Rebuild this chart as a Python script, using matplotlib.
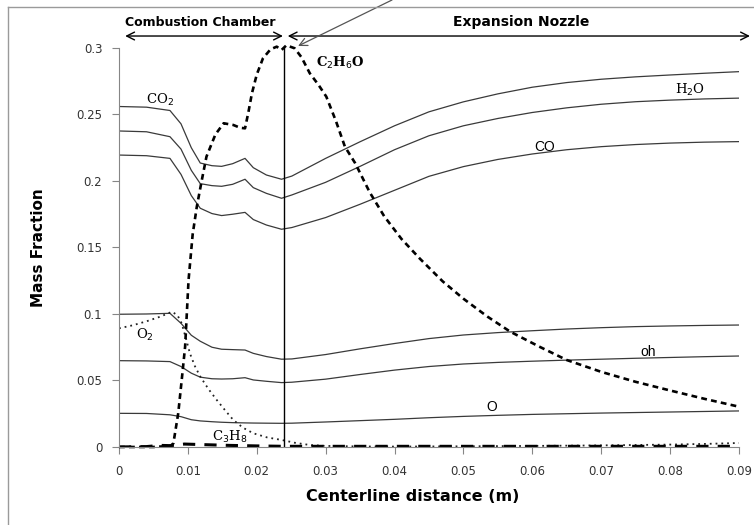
import matplotlib
matplotlib.use('Agg')
import matplotlib.pyplot as plt
from matplotlib.lines import Line2D

# solid species curves share one set of read-off x positions
x_solid = [0, 0.004, 0.0074, 0.009, 0.0105, 0.0118, 0.0135, 0.0149, 0.0165, 0.0183,
           0.0195, 0.0214, 0.0236, 0.0251, 0.03, 0.035, 0.04, 0.045, 0.05, 0.055,
           0.06, 0.065, 0.07, 0.075, 0.08, 0.085, 0.09]
co2 = [0.256, 0.2555, 0.253, 0.243, 0.225, 0.2135, 0.2115, 0.211, 0.213, 0.217,
       0.21, 0.2045, 0.2013, 0.2037, 0.217, 0.2295, 0.2415, 0.252, 0.2595, 0.2655,
       0.2705, 0.274, 0.2765, 0.2783, 0.2797, 0.281, 0.2822]
h2o = [0.2376, 0.237, 0.2333, 0.224, 0.208, 0.198, 0.1965, 0.196, 0.1975, 0.2013,
       0.195, 0.1907, 0.187, 0.1895, 0.199, 0.211, 0.2235, 0.234, 0.2415, 0.247,
       0.2515, 0.255, 0.2577, 0.2596, 0.2608, 0.2617, 0.2623]
co = [0.2195, 0.219, 0.217, 0.205, 0.189, 0.1795, 0.1755, 0.174, 0.175, 0.1764,
      0.171, 0.1669, 0.1637, 0.165, 0.1725, 0.1825, 0.193, 0.2035, 0.2108, 0.2162,
      0.2203, 0.2235, 0.2258, 0.2274, 0.2285, 0.2292, 0.2296]
h2 = [0.0998, 0.1, 0.1005, 0.093, 0.084, 0.0795, 0.075, 0.0735, 0.0732, 0.0729,
      0.0704, 0.068, 0.066, 0.0662, 0.0695, 0.0738, 0.0778, 0.0815, 0.0842, 0.086,
      0.0874, 0.0887, 0.0897, 0.0905, 0.091, 0.0914, 0.0917]
oh = [0.0649, 0.0647, 0.0642, 0.0605, 0.0555, 0.0525, 0.0513, 0.0511, 0.0513, 0.0521,
      0.0504, 0.0494, 0.0484, 0.0487, 0.051, 0.0545, 0.0578, 0.0605, 0.0624, 0.0636,
      0.0645, 0.0653, 0.066, 0.0667, 0.0673, 0.0679, 0.0684]
o = [0.0253, 0.0252, 0.0242, 0.0228, 0.0205, 0.0196, 0.019, 0.0186, 0.0183, 0.0181,
     0.018, 0.0179, 0.0178, 0.0179, 0.0188, 0.0198, 0.0208, 0.022, 0.023, 0.0238,
     0.0245, 0.025, 0.0255, 0.0259, 0.0263, 0.0267, 0.0271]

x_o2 = [0, 0.002, 0.004, 0.006, 0.0077, 0.0085, 0.0091, 0.0097, 0.0103, 0.011,
        0.0118, 0.013, 0.0142, 0.0155, 0.0166, 0.018, 0.0195, 0.0215, 0.0236, 0.0255,
        0.0277, 0.03, 0.035, 0.04, 0.05, 0.06, 0.07, 0.08, 0.085, 0.09]
o2 = [0.0892, 0.0915, 0.0945, 0.098, 0.1017, 0.099, 0.093, 0.082, 0.0704, 0.061,
      0.0529, 0.0435, 0.0353, 0.027, 0.0203, 0.0145, 0.0103, 0.0072, 0.0053, 0.0032,
      0.0015, 0.0008, 0.0004, 0.0003, 0.0005, 0.0008, 0.0012, 0.0018, 0.0023, 0.003]

x_c2h6o = [0, 0.005, 0.0075, 0.0079, 0.0086, 0.0091, 0.0096, 0.0101, 0.0107, 0.0113,
           0.012, 0.0127, 0.014, 0.0152, 0.0166, 0.0176, 0.0183, 0.0188, 0.0193, 0.02,
           0.0209, 0.022, 0.0229, 0.0236, 0.0243, 0.0255, 0.0265, 0.0277, 0.029, 0.0301,
           0.0315, 0.0328, 0.0343, 0.0364, 0.0385, 0.041, 0.0437, 0.047, 0.05, 0.0535,
           0.0568, 0.061, 0.065, 0.07, 0.075, 0.08, 0.085, 0.09]
c2h6o = [0, 0, 0.0008, 0.0028, 0.0253, 0.05, 0.0754, 0.1256, 0.16, 0.1807,
         0.2, 0.2183, 0.235, 0.2434, 0.2421, 0.24, 0.2396, 0.252, 0.2659, 0.28,
         0.2922, 0.299, 0.301, 0.2985, 0.302, 0.2998, 0.293, 0.281, 0.272, 0.2634,
         0.245, 0.2258, 0.2133, 0.1915, 0.1735, 0.1565, 0.1415, 0.1245, 0.1115, 0.098,
         0.0867, 0.0755, 0.0654, 0.0565, 0.049, 0.0425, 0.0362, 0.0303]

x_c3h8 = [0, 0.004, 0.006, 0.0075, 0.0095, 0.012, 0.016, 0.02, 0.024, 0.09]
c3h8 = [0, 0.0003, 0.0012, 0.001, 0.0022, 0.0018, 0.0012, 0.0008, 0.0005, 0.0005]

x_ticks = [0, 0.01, 0.02, 0.03, 0.04, 0.05, 0.06, 0.07, 0.08, 0.09]
x_ticklabels = ['0', '0.01', '0.02', '0.03', '0.04', '0.05', '0.06', '0.07', '0.08', '0.09']
y_ticks = [0, 0.05, 0.1, 0.15, 0.2, 0.25, 0.3]
y_ticklabels = ['0', '0.05', '0.1', '0.15', '0.2', '0.25', '0.3']

x_boundary = 0.024

plt.rcParams['font.family'] = ['DejaVu Sans']

fig = plt.figure(figsize=(7.54, 5.25), dpi=100)
ax = fig.add_axes([0.1578, 0.1486, 0.8222, 0.76])

line_col = '#3a3a3a'
for ys in (co2, h2o, co, h2, oh, o):
    ax.plot(x_solid, ys, color=line_col, lw=0.9)
ax.plot(x_o2, o2, color='#222222', lw=1.3, linestyle=(0, (1, 2.2)))
ax.plot(x_c2h6o, c2h6o, color='black', lw=1.9, linestyle=(0, (2.2, 1.6)), clip_on=False)
ax.plot(x_c3h8, c3h8, color='black', lw=2.2, linestyle=(0, (4, 3)))

ax.plot([x_boundary, x_boundary], [0, 0.3], color='black', lw=1)

ax.set_xlim(0, 0.09)
ax.set_ylim(0, 0.3)
ax.set_xticks(x_ticks)
ax.set_xticklabels(x_ticklabels)
ax.set_yticks(y_ticks)
ax.set_yticklabels(y_ticklabels)
for s in ('top', 'right'):
    ax.spines[s].set_visible(False)
for s in ('left', 'bottom'):
    ax.spines[s].set_color('#868686')
ax.tick_params(axis='both', colors='#868686', labelcolor='#333333', labelsize=8.5,
               length=5, width=0.8, direction='out')
ax.tick_params(axis='y', pad=7)
ax.tick_params(axis='x', pad=8)
ax.set_xlabel('Centerline distance (m)', fontsize=11.5, fontweight='bold',
              labelpad=8, x=0.474)
ax.set_ylabel('Mass Fraction', fontsize=11, fontweight='bold', labelpad=22)

# section arrows above the plot
arrow_y = 0.309
ax.annotate('', xy=(0.0238, arrow_y), xytext=(0.0009, arrow_y), annotation_clip=False,
            arrowprops=dict(arrowstyle='<->', color='black', lw=1, mutation_scale=14,
                            shrinkA=0, shrinkB=0))
ax.annotate('', xy=(0.0916, arrow_y), xytext=(0.0245, arrow_y), annotation_clip=False,
            arrowprops=dict(arrowstyle='<->', color='black', lw=1, mutation_scale=14,
                            shrinkA=0, shrinkB=0))
ax.text(0.0118, 0.3195, 'Combustion Chamber', ha='center', va='center',
        fontsize=9, fontweight='bold', clip_on=False)
ax.text(0.0584, 0.3195, 'Expansion Nozzle', ha='center', va='center',
        fontsize=10, fontweight='bold', clip_on=False)

# pointer to the ethanol peak
ax.annotate('', xy=(0.026, 0.3015), xycoords='data',
            xytext=(392 / 754, 1.0), textcoords='figure fraction', annotation_clip=False,
            arrowprops=dict(arrowstyle='->', color='#555555', lw=0.9, mutation_scale=14,
                            shrinkA=0, shrinkB=0))

serif = ['DejaVu Serif']
ax.text(0.006, 0.261, r'CO$_2$', ha='center', va='center', fontsize=9.5, family=serif)
ax.text(0.0322, 0.2887, r'C$_2$H$_6$O', ha='center', va='center', fontsize=9.5,
        family=serif, fontweight='bold')
ax.text(0.0829, 0.2684, r'H$_2$O', ha='center', va='center', fontsize=9.5, family=serif)
ax.text(0.0618, 0.2256, 'CO', ha='center', va='center', fontsize=10,
        family=['Liberation Sans'])
ax.text(0.0038, 0.0842, r'O$_2$', ha='center', va='center', fontsize=9.5, family=serif)
ax.text(0.0768, 0.0714, 'oh', ha='center', va='center', fontsize=10,
        family=['Liberation Sans'])
ax.text(0.0541, 0.030, 'O', ha='center', va='center', fontsize=10,
        family=['Liberation Sans'])
ax.text(0.0161, 0.0075, r'C$_3$H$_8$', ha='center', va='center', fontsize=9.5, family=serif)

# partial frame around the figure
fig.add_artist(Line2D([8 / 754, 8 / 754], [0, 1 - 7 / 525], color='#9a9a9a', lw=1))
fig.add_artist(Line2D([8 / 754, 1], [1 - 7 / 525, 1 - 7 / 525], color='#9a9a9a', lw=1))

fig.savefig('out.png', dpi=100)
